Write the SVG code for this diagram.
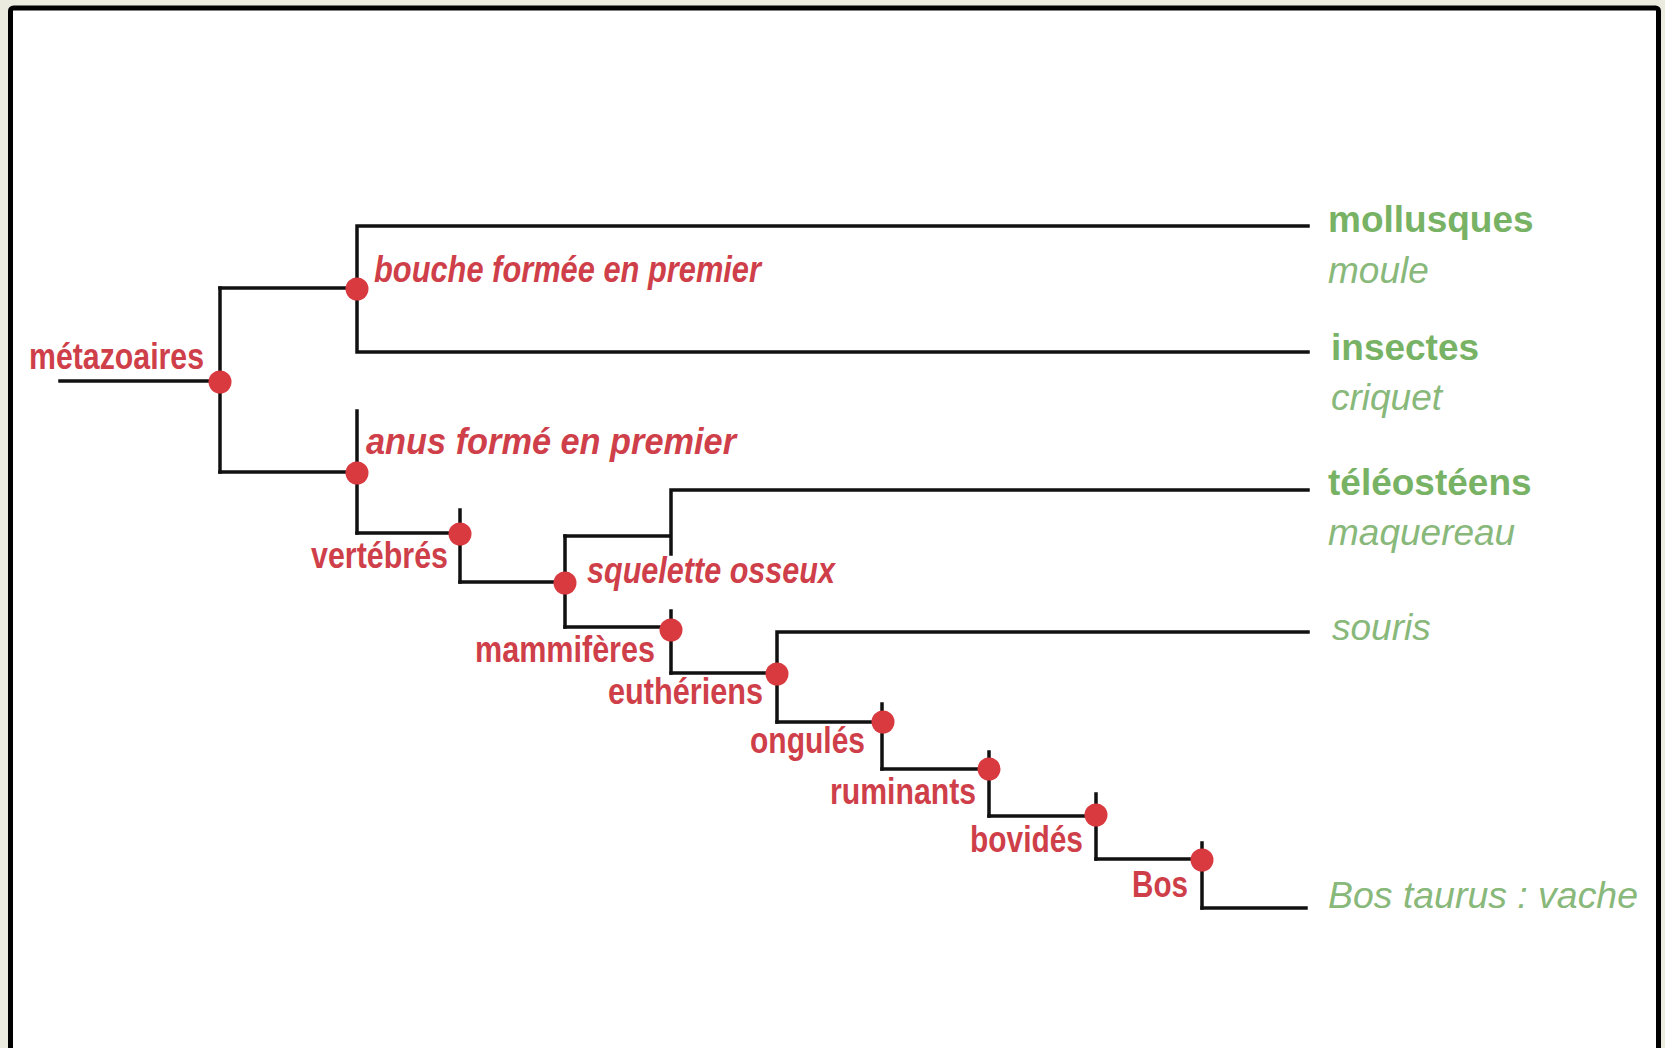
<svg xmlns="http://www.w3.org/2000/svg" width="1665" height="1048" viewBox="0 0 1665 1048">
  <style>
    .branch { fill: none; stroke: #111; stroke-width: 3.5; stroke-linecap: square; }
    .dot { fill: #d93a40; }
    .clade { font-family: "Liberation Sans", Arial, sans-serif; font-size: 36px; font-weight: bold; fill: #cf3f4a; }
    .trait { font-style: italic; }
    .taxon { font-family: "Liberation Sans", Arial, sans-serif; font-size: 37px; font-weight: bold; fill: #78b265; }
    .species { font-family: "Liberation Sans", Arial, sans-serif; font-size: 37px; font-style: italic; fill: #88b87a; }
  </style>

  <!-- page background and frame -->
  <rect x="0" y="0" width="1665" height="1048" fill="#ecebe0"/>
  <rect x="10.5" y="8" width="1648" height="1100" rx="3" fill="#ffffff" stroke="#000" stroke-width="5"/>

  <!-- branches of the tree -->
  <g id="connectors" class="branch">
    <path d="M60 381 H220"/>
    <path d="M220 288 V472"/>
    <path d="M220 288 H357 M357 226 V352 M357 226 H1308 M357 352 H1308"/>
    <path d="M220 472 H357 M357 411 V533"/>
    <path d="M357 533 H460 M460 510 V582"/>
    <path d="M460 582 H565 M565 536 V627"/>
    <path d="M565 536 H671 M671 490 V554 M671 490 H1308"/>
    <path d="M565 627 H671 M671 611 V673"/>
    <path d="M671 673 H777 M777 632 V722 M777 632 H1308"/>
    <path d="M777 722 H882 M882 704 V769"/>
    <path d="M882 769 H989 M989 752 V816"/>
    <path d="M989 816 H1096 M1096 794 V859"/>
    <path d="M1096 859 H1202 M1202 843 V908"/>
    <path d="M1202 908 H1306"/>
  </g>

  <!-- internal nodes (red) -->
  <g id="n-metazoaires">
    <circle class="dot" cx="220" cy="382" r="11.5"/>
    <text class="clade" x="29" y="369" textLength="175" lengthAdjust="spacingAndGlyphs">métazoaires</text>
  </g>
  <g id="n-bouche">
    <circle class="dot" cx="357" cy="289" r="11.5"/>
    <text class="clade trait" x="374" y="282" textLength="387" lengthAdjust="spacingAndGlyphs">bouche formée en premier</text>
  </g>
  <g id="n-anus">
    <circle class="dot" cx="357" cy="473" r="11.5"/>
    <text class="clade trait" x="366" y="454" textLength="370" lengthAdjust="spacingAndGlyphs">anus formé en premier</text>
  </g>
  <g id="n-vertebres">
    <circle class="dot" cx="460" cy="534" r="11.5"/>
    <text class="clade" x="311" y="568" textLength="137" lengthAdjust="spacingAndGlyphs">vertébrés</text>
  </g>
  <g id="n-squelette">
    <circle class="dot" cx="565" cy="583" r="11.5"/>
    <text class="clade trait" x="587" y="583" textLength="248" lengthAdjust="spacingAndGlyphs">squelette osseux</text>
  </g>
  <g id="n-mammiferes">
    <circle class="dot" cx="671" cy="630" r="11.5"/>
    <text class="clade" x="475" y="662" textLength="180" lengthAdjust="spacingAndGlyphs">mammifères</text>
  </g>
  <g id="n-eutheriens">
    <circle class="dot" cx="777" cy="674" r="11.5"/>
    <text class="clade" x="608" y="704" textLength="155" lengthAdjust="spacingAndGlyphs">euthériens</text>
  </g>
  <g id="n-ongules">
    <circle class="dot" cx="883" cy="722" r="11.5"/>
    <text class="clade" x="750" y="753" textLength="115" lengthAdjust="spacingAndGlyphs">ongulés</text>
  </g>
  <g id="n-ruminants">
    <circle class="dot" cx="989" cy="769" r="11.5"/>
    <text class="clade" x="830" y="804" textLength="146" lengthAdjust="spacingAndGlyphs">ruminants</text>
  </g>
  <g id="n-bovides">
    <circle class="dot" cx="1096" cy="815" r="11.5"/>
    <text class="clade" x="970" y="852" textLength="113" lengthAdjust="spacingAndGlyphs">bovidés</text>
  </g>
  <g id="n-bos">
    <circle class="dot" cx="1202" cy="860" r="11.5"/>
    <text class="clade" x="1132" y="897" textLength="56" lengthAdjust="spacingAndGlyphs">Bos</text>
  </g>

  <!-- leaves (green) -->
  <g id="leaf-mollusques">
    <text class="taxon" x="1328" y="232">mollusques</text>
    <text class="species" x="1328" y="283">moule</text>
  </g>
  <g id="leaf-insectes">
    <text class="taxon" x="1331" y="360">insectes</text>
    <text class="species" x="1331" y="410">criquet</text>
  </g>
  <g id="leaf-teleosteens">
    <text class="taxon" x="1328" y="495">téléostéens</text>
    <text class="species" x="1328" y="545">maquereau</text>
  </g>
  <g id="leaf-souris">
    <text class="species" x="1332" y="640">souris</text>
  </g>
  <g id="leaf-vache">
    <text class="species" x="1328" y="908" textLength="310" lengthAdjust="spacingAndGlyphs">Bos taurus : vache</text>
  </g>
</svg>
